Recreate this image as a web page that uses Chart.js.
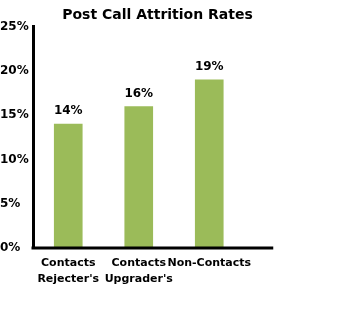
<!DOCTYPE html>
<html>
<head>
<meta charset="utf-8">
<script src="https://cdn.jsdelivr.net/npm/chart.js@4/dist/chart.umd.min.js"></script>
<style>
  html, body { margin: 0; padding: 0; background: #fff; }
  #wrap { width: 350px; height: 317px; }
</style>
</head>
<body>
<div id="wrap"><canvas id="barChart"></canvas></div>
<script>
// Chart data
const categories = [["Contacts", "Rejecter's"], ["Contacts", "Upgrader's"], "Non-Contacts", ""];
const attritionRates = [14, 16, 19, null];
const yTicks = [0, 5, 10, 15, 20, 25];

const FONT = "'DejaVu Sans', Verdana, sans-serif";

// Draw the % value above each bar
const valueLabels = {
  id: "valueLabels",
  afterDatasetsDraw(chart) {
    const ctx = chart.ctx;
    const meta = chart.getDatasetMeta(0);
    ctx.save();
    ctx.font = "bold 12px " + FONT;
    ctx.fillStyle = "#000";
    ctx.textAlign = "center";
    ctx.textBaseline = "bottom";
    meta.data.forEach((bar, i) => {
      const v = attritionRates[i];
      if (v == null) return;
      ctx.fillText(v + "%", bar.x, bar.y - 7);
    });
    ctx.restore();
  },
};

// Bottom axis line, stops short of the empty last slot
const baseLine = {
  id: "baseLine",
  afterDraw(chart) {
    const { ctx, chartArea, scales } = chart;
    const end = scales.x.getPixelForValue(2) + 64;
    ctx.save();
    ctx.strokeStyle = "#000";
    ctx.lineWidth = 3;
    ctx.beginPath();
    ctx.moveTo(chartArea.left - 1.5, chartArea.bottom);
    ctx.lineTo(end, chartArea.bottom);
    ctx.stroke();
    ctx.restore();
  },
};

document.addEventListener("DOMContentLoaded", () => {
  const ctx = document.getElementById("barChart").getContext("2d");
  new Chart(ctx, {
    type: "bar",
    data: {
      labels: categories,
      datasets: [
        {
          data: attritionRates,
          backgroundColor: "#9bbb59",
          barThickness: 28,
        },
      ],
    },
    options: {
      responsive: true,
      maintainAspectRatio: false,
      animation: false,
      layout: { padding: { left: 0, right: 35, top: 0, bottom: 31 } },
      plugins: {
        legend: { display: false },
        tooltip: { enabled: false },
        title: {
          display: true,
          text: "Post Call Attrition Rates",
          color: "#000",
          font: { family: FONT, size: 14, weight: "bold" },
          padding: { top: 7, bottom: 3 },
        },
      },
      scales: {
        x: {
          grid: { display: false },
          border: { display: false },
          ticks: {
            color: "#000",
            font: { family: FONT, size: 11, weight: "bold", lineHeight: 1.45 },
            padding: -1,
            maxRotation: 0,
            autoSkip: false,
          },
        },
        y: {
          min: 0,
          max: 25,
          afterFit: (scale) => { scale.width = 33; },
          afterBuildTicks: (scale) => {
            scale.ticks = yTicks.map((v) => ({ value: v }));
          },
          grid: { display: false },
          border: { display: true, color: "#000", width: 3 },
          ticks: {
            color: "#000",
            crossAlign: "far",
            font: { family: FONT, size: 12, weight: "bold" },
            callback: (v) => v + "%",
          },
        },
      },
    },
    plugins: [valueLabels, baseLine],
  });
});
</script>
</body>
</html>
